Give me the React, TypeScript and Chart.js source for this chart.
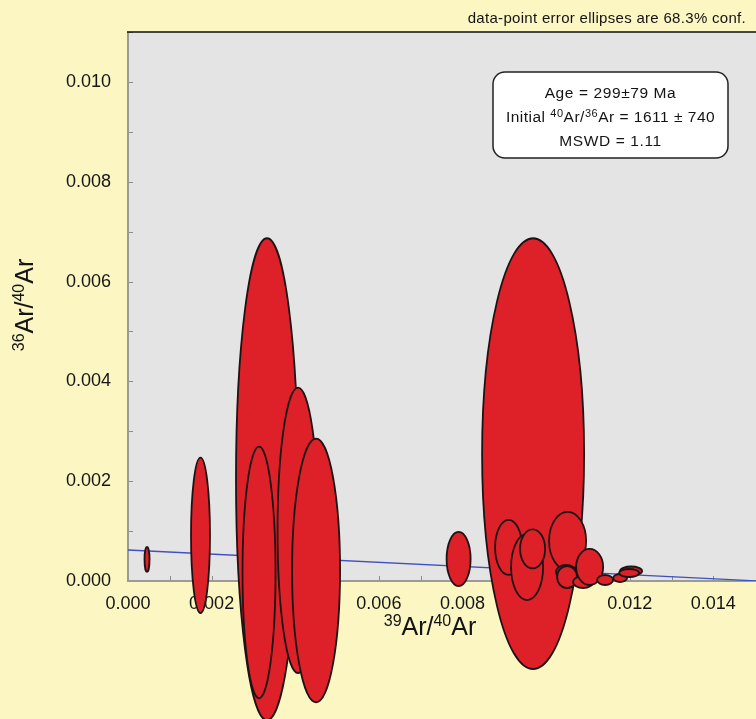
import React, { useEffect, useRef } from "react";
import { Chart, registerables } from "chart.js";

Chart.register(...registerables);

// ---- data (axis units) ----
// error-ellipse centres and semi-axes (drawn in this order)
const ellipseX = [0.003325, 0.009689, 0.004067, 0.004498, 0.003134, 0.001734, 0.007907, 0.009103, 0.009545, 0.009677, 0.010514, 0.010478, 0.010502, 0.010885, 0.011041, 0.011411, 0.01177, 0.012033, 0.011986, 0.000455];
const ellipseY = [0.002038, 0.00255, 0.001014, 0.000211, 0.000171, 0.000914, 0.000442, 0.000673, 0.000281, 0.000643, 0.000803, 0.000181, 0.00008, -0.00002, 0.000281, 0.00002, 0.00006, 0.000201, 0.00016, 0.000432];
const ellipseSx = [0.000742, 0.00122, 0.00049, 0.000574, 0.000395, 0.000227, 0.000287, 0.000323, 0.000383, 0.000299, 0.000443, 0.000239, 0.000239, 0.000239, 0.000323, 0.000191, 0.000167, 0.000263, 0.000239, 0.00006];
const ellipseSy = [0.004829, 0.004317, 0.002861, 0.002641, 0.00252, 0.001556, 0.000542, 0.000552, 0.000663, 0.000392, 0.000582, 0.000141, 0.000221, 0.00012, 0.000361, 0.0001, 0.00008, 0.00009, 0.00008, 0.000251];

// isochron regression line
const isochronX = [0, 0.0151];
const isochronY = [0.000621, 0];

// axes
const X_MIN = 0;
const X_MAX = 0.01502;
const Y_MIN = 0;
const Y_MAX = 0.011;
const TICK_STEP = 0.001;
const labelledXTicks = [0, 0.002, 0.006, 0.008, 0.012, 0.014];
const labelledYTicks = [0, 0.002, 0.004, 0.006, 0.008, 0.01];

// texts
const noteText = "data-point error ellipses are 68.3% conf.";
const ageLine = "Age = 299\u00B179 Ma";
const mswdLine = "MSWD = 1.11";

const PAGE_BG = "#fbf6c2";
const PLOT_BG = "#e4e4e4";
const RED = "#de2028";
const FONT = "'Liberation Sans', Arial, sans-serif";

type Part = { t: string; sup?: boolean };

function drawParts(ctx: any, parts: Part[], x: number, y: number, size: number, supSize: number, align: "center" | "left", rise: number, spacing = 0) {
  ctx.letterSpacing = `${spacing}px`;
  const widths = parts.map((p) => {
    ctx.font = `${p.sup ? supSize : size}px ${FONT}`;
    return ctx.measureText(p.t).width;
  });
  const total = widths.reduce((a, b) => a + b, 0);
  let cx = align === "center" ? x - total / 2 : x;
  ctx.textAlign = "left";
  ctx.textBaseline = "alphabetic";
  parts.forEach((p, i) => {
    ctx.font = `${p.sup ? supSize : size}px ${FONT}`;
    ctx.fillText(p.t, cx, p.sup ? y - rise : y);
    cx += widths[i];
  });
  ctx.letterSpacing = "0px";
}

const framePlugin = {
  id: "frame",
  beforeDraw(chart: any) {
    const { ctx, chartArea: a, width, height } = chart;
    const xs = chart.scales.x;
    const ys = chart.scales.y;
    ctx.save();
    ctx.fillStyle = PAGE_BG;
    ctx.fillRect(0, 0, width, height);
    ctx.fillStyle = PLOT_BG;
    ctx.fillRect(a.left, a.top, a.right - a.left, a.bottom - a.top);
    // inside ticks
    ctx.strokeStyle = "#8c8c8c";
    ctx.lineWidth = 1;
    ys.ticks.forEach((t: any) => {
      const p = Math.round(ys.getPixelForValue(t.value)) + 0.5;
      ctx.beginPath();
      ctx.moveTo(a.left, p);
      ctx.lineTo(a.left + 5, p);
      ctx.stroke();
    });
    xs.ticks.forEach((t: any) => {
      const p = Math.round(xs.getPixelForValue(t.value)) + 0.5;
      ctx.beginPath();
      ctx.moveTo(p, a.bottom);
      ctx.lineTo(p, a.bottom - 5);
      ctx.stroke();
    });
    // frame
    ctx.strokeStyle = "#9a9a9a";
    ctx.lineWidth = 2;
    ctx.beginPath();
    ctx.moveTo(a.left, a.top);
    ctx.lineTo(a.left, a.bottom);
    ctx.lineTo(a.right, a.bottom);
    ctx.stroke();
    ctx.strokeStyle = "#111";
    ctx.lineWidth = 1.5;
    ctx.beginPath();
    ctx.moveTo(a.left - 1, a.top);
    ctx.lineTo(a.right, a.top);
    ctx.stroke();
    ctx.restore();
  },
};

const ellipsePlugin = {
  id: "ellipses",
  afterDatasetsDraw(chart: any) {
    const { ctx } = chart;
    const xs = chart.scales.x;
    const ys = chart.scales.y;
    ctx.save();
    for (let i = 0; i < ellipseX.length; i++) {
      const cx = xs.getPixelForValue(ellipseX[i]);
      const cy = ys.getPixelForValue(ellipseY[i]);
      const rx = Math.abs(xs.getPixelForValue(ellipseX[i] + ellipseSx[i]) - cx);
      const ry = Math.abs(ys.getPixelForValue(ellipseY[i] + ellipseSy[i]) - cy);
      ctx.beginPath();
      ctx.ellipse(cx, cy, rx, ry, 0, 0, Math.PI * 2);
      ctx.fillStyle = RED;
      ctx.fill();
      ctx.strokeStyle = "#1c1414";
      ctx.lineWidth = 1.8;
      ctx.stroke();
    }
    ctx.restore();
  },
};

const textPlugin = {
  id: "texts",
  afterDraw(chart: any) {
    const { ctx } = chart;
    ctx.save();
    ctx.fillStyle = "#141414";
    // note
    ctx.font = `15px ${FONT}`;
    ctx.letterSpacing = "0.3px";
    ctx.textAlign = "right";
    ctx.textBaseline = "alphabetic";
    ctx.fillText(noteText, 746, 23);
    ctx.letterSpacing = "0px";

    // result box
    const bx = 493, by = 72, bw = 235, bh = 86, r = 12;
    ctx.beginPath();
    ctx.roundRect(bx, by, bw, bh, r);
    ctx.fillStyle = "#ffffff";
    ctx.fill();
    ctx.strokeStyle = "#222";
    ctx.lineWidth = 1.5;
    ctx.stroke();
    ctx.fillStyle = "#141414";
    const mid = bx + bw / 2;
    drawParts(ctx, [{ t: ageLine }], mid, 98, 15.5, 11, "center", 5, 0.6);
    drawParts(
      ctx,
      [{ t: "Initial " }, { t: "40", sup: true }, { t: "Ar/" }, { t: "36", sup: true }, { t: "Ar = 1611 \u00B1 740" }],
      mid, 122, 15.5, 11, "center", 5, 0.5
    );
    drawParts(ctx, [{ t: mswdLine }], mid, 146, 15.5, 11, "center", 5, 0.6);

    // x-axis title
    const xParts: Part[] = [{ t: "39", sup: true }, { t: "Ar/" }, { t: "40", sup: true }, { t: "Ar" }];
    drawParts(ctx, xParts, 430, 635, 25, 16, "center", 9);

    // y-axis title
    ctx.translate(33, 305);
    ctx.rotate(-Math.PI / 2);
    drawParts(ctx, [{ t: "36", sup: true }, { t: "Ar/" }, { t: "40", sup: true }, { t: "Ar" }], 0, 0, 25, 16, "center", 9);
    ctx.restore();
  },
};

function isLabelled(v: number, list: number[]) {
  return list.some((t) => Math.abs(t - v) < 1e-9);
}

export default function App() {
  const ref = useRef<HTMLCanvasElement | null>(null);
  useEffect(() => {
    document.body.style.margin = "0";
    const canvas = ref.current;
    if (!canvas) return;
    const chart = new Chart(canvas, {
      type: "scatter",
      data: {
        datasets: [
          {
            type: "line",
            label: "isochron",
            data: isochronX.map((x, i) => ({ x, y: isochronY[i] })),
            borderColor: "#3f50c0",
            borderWidth: 1.3,
            pointRadius: 0,
            showLine: true,
            fill: false,
          } as any,
          {
            label: "centres",
            data: ellipseX.map((x, i) => ({ x, y: ellipseY[i] })),
            pointRadius: 0,
            pointHoverRadius: 0,
          },
        ],
      },
      options: {
        animation: false,
        responsive: false,
        devicePixelRatio: 1,
        events: [],
        layout: { padding: { top: 32, left: 0, right: 0, bottom: 0 } },
        plugins: { legend: { display: false }, tooltip: { enabled: false } },
        scales: {
          x: {
            type: "linear",
            min: X_MIN,
            max: X_MAX,
            grid: { display: false, drawTicks: false },
            border: { display: false },
            ticks: {
              stepSize: TICK_STEP,
              autoSkip: false,
              maxRotation: 0,
              padding: 12,
              color: "#151515",
              font: { family: FONT, size: 18 },
              callback: (v: any) => (isLabelled(Number(v), labelledXTicks) ? Number(v).toFixed(3) : ""),
            },
            afterFit: (s: any) => {
              s.height = 138;
              s.paddingLeft = 0;
              s.paddingRight = 0;
            },
          },
          y: {
            type: "linear",
            min: Y_MIN,
            max: Y_MAX,
            grid: { display: false, drawTicks: false },
            border: { display: false },
            ticks: {
              stepSize: TICK_STEP,
              autoSkip: false,
              padding: 17,
              color: "#151515",
              font: { family: FONT, size: 18 },
              callback: (v: any) => (isLabelled(Number(v), labelledYTicks) ? Number(v).toFixed(3) : ""),
            },
            afterFit: (s: any) => {
              s.width = 128;
              s.paddingTop = 0;
              s.paddingBottom = 0;
            },
          },
        },
      },
      plugins: [framePlugin, ellipsePlugin, textPlugin],
    });
    return () => chart.destroy();
  }, []);
  return (
    <div style={{ position: "absolute", left: 0, top: 0, width: 756, height: 719 }}>
      <canvas ref={ref} width={756} height={719} />
    </div>
  );
}
